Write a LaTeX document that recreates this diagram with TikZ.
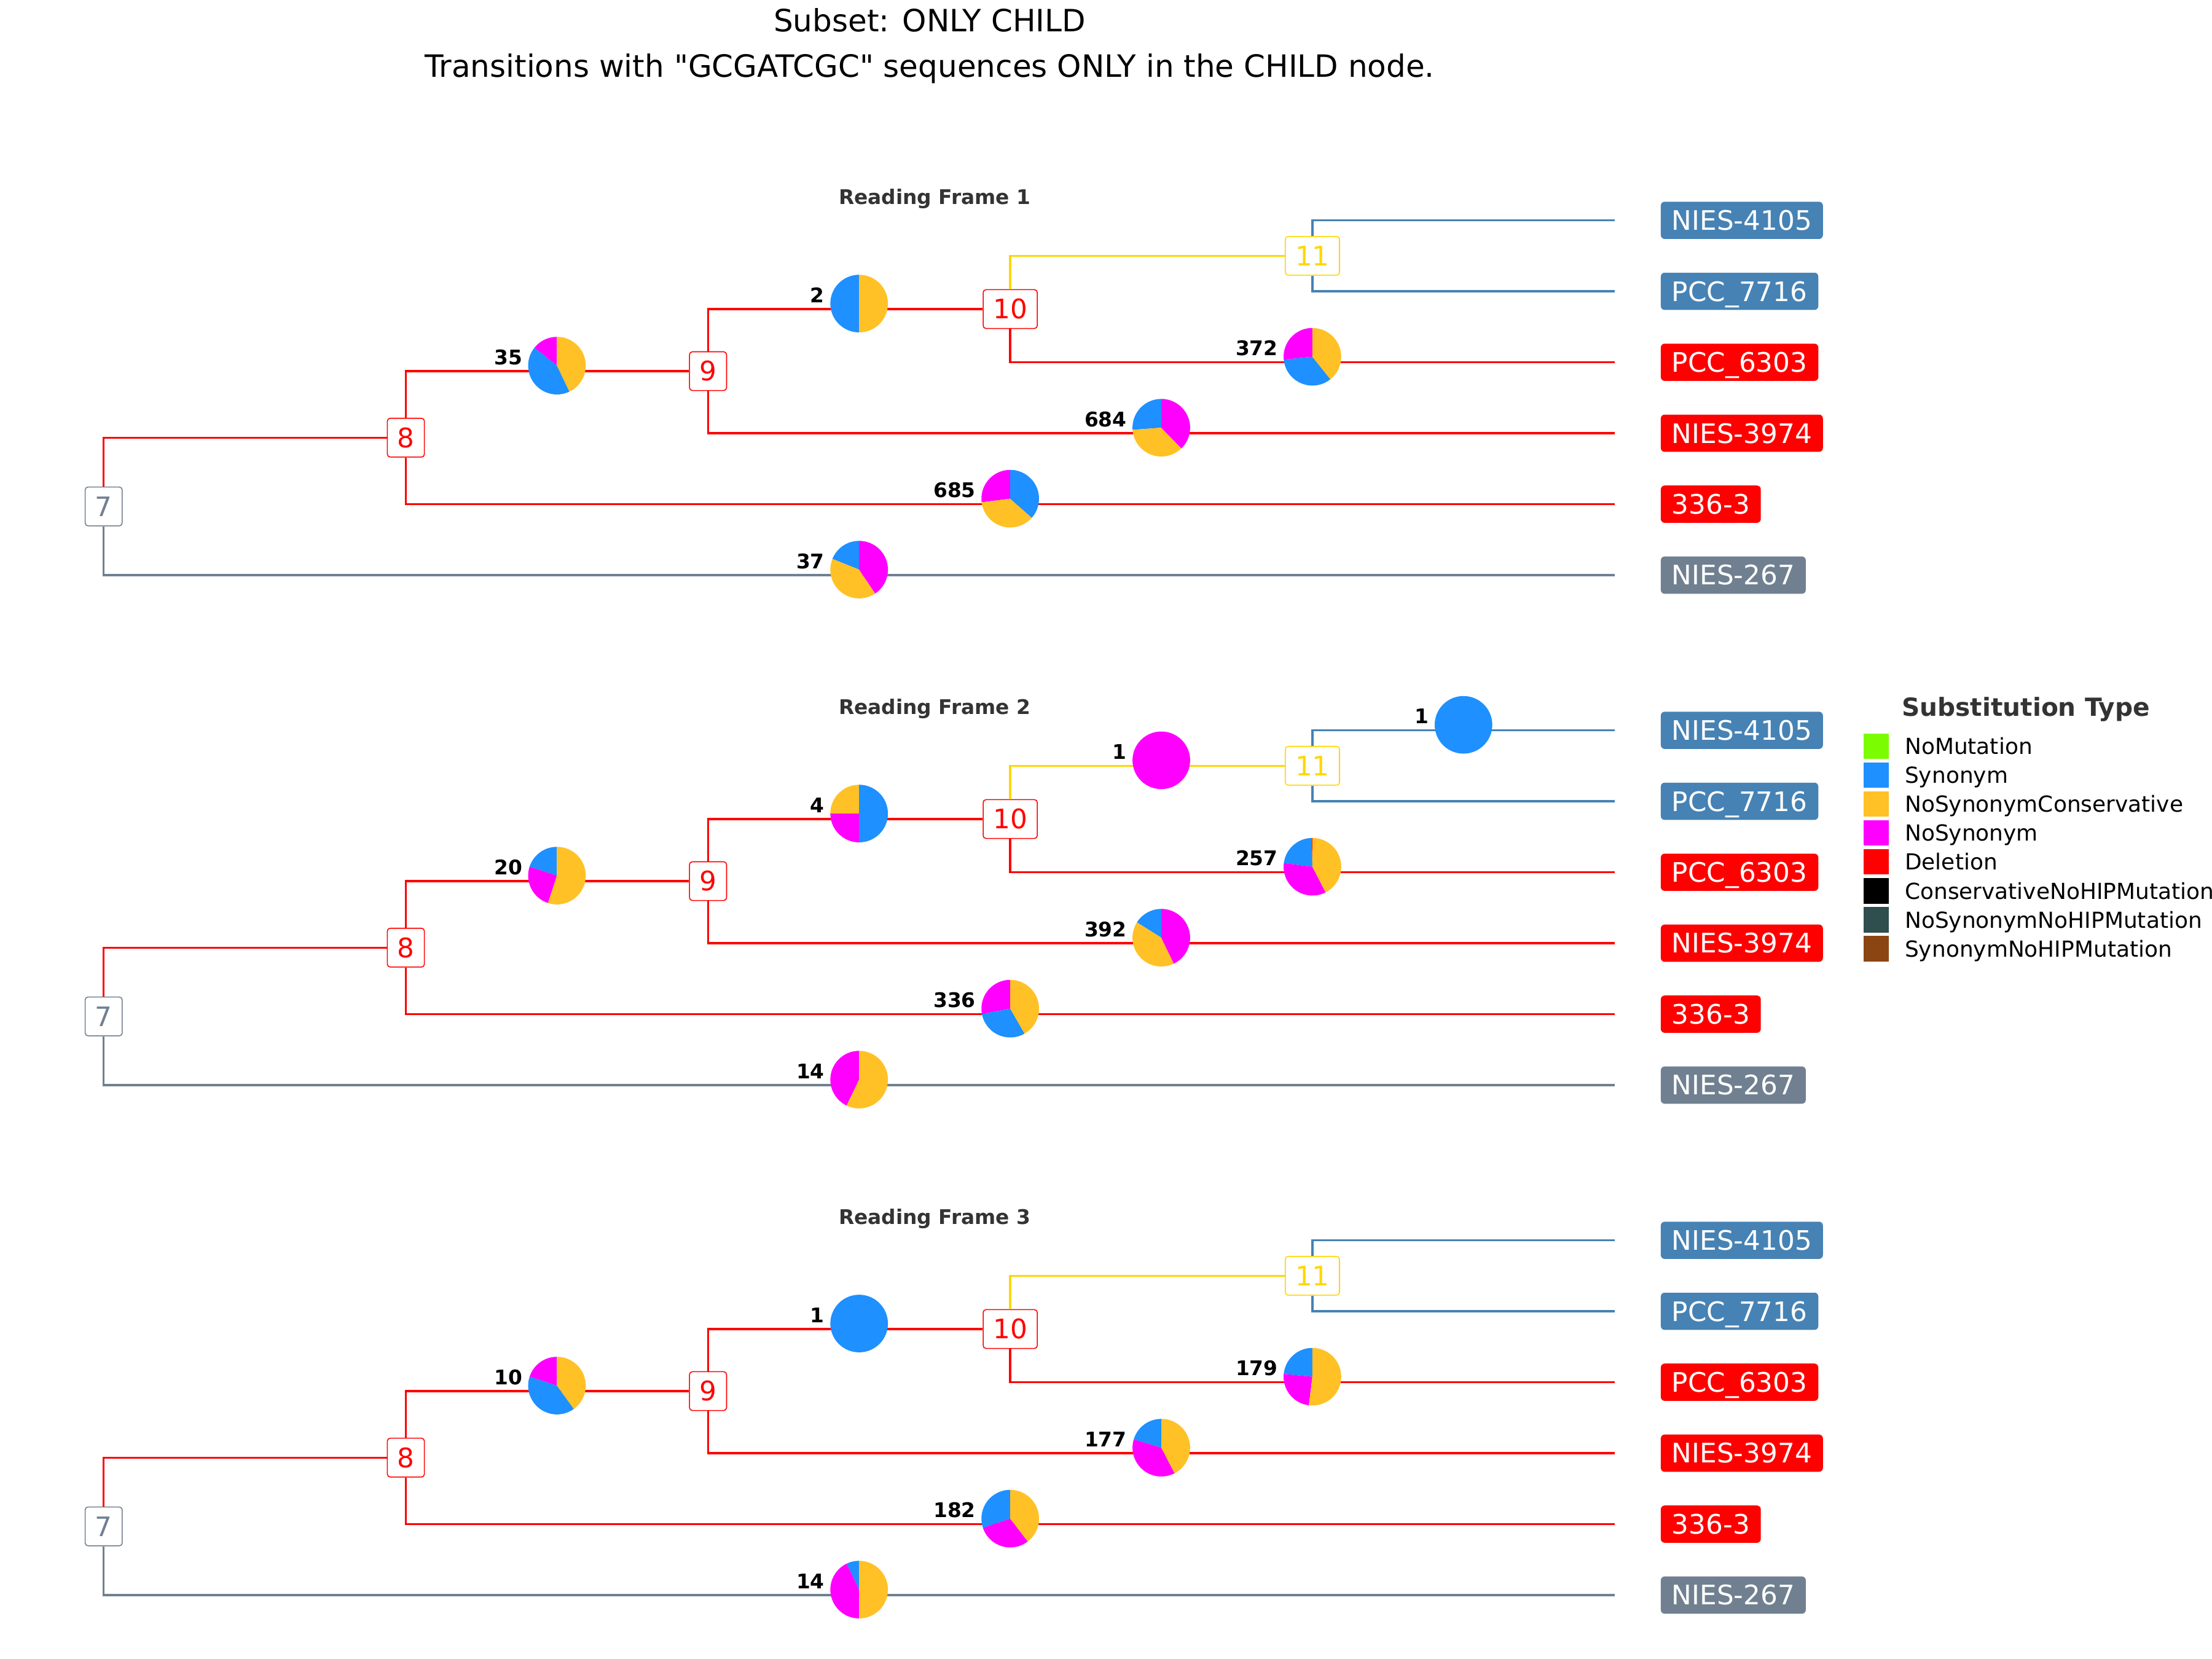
\documentclass[tikz,border=0pt]{standalone}
\usepackage{fontspec}
\setmainfont{DejaVu Sans}
\newfontfamily\plainfont{DejaVu Sans}
\definecolor{cred}{HTML}{FF0000}
\definecolor{cgold}{HTML}{FFD700}
\definecolor{csteel}{HTML}{4682B4}
\definecolor{cslate}{HTML}{708090}
\definecolor{cnomut}{HTML}{7CFC00}
\definecolor{csyn}{HTML}{1E90FF}
\definecolor{cnsc}{HTML}{FFC125}
\definecolor{cnosyn}{HTML}{FF00FF}
\definecolor{cdel}{HTML}{FF0000}
\definecolor{ccons}{HTML}{000000}
\definecolor{cnsnh}{HTML}{2F4F4F}
\definecolor{csnh}{HTML}{8B4513}
\definecolor{cdark}{HTML}{333333}
\tikzset{
  tedge/.style={line width=1.1pt},
  inode/.style={draw=#1, text=#1, fill=white, rounded corners=1.5pt, line width=0.5pt,
    font=\fontsize{14}{16}\selectfont, inner xsep=5.2pt, inner ysep=5pt,
    text height=10.2pt, text depth=0pt},
  leaf/.style={fill=#1, text=white, rounded corners=2pt,
    font=\fontsize{14}{16}\selectfont, inner xsep=5.7pt, inner ysep=4.6pt,
    text height=10.2pt, text depth=0pt, anchor=west},
  cnt/.style={font=\bfseries\fontsize{10.5}{12}\selectfont, inner sep=0pt,
    text height=7.6pt, text depth=0pt, anchor=east},
  frametitle/.style={font=\bfseries\fontsize{10.5}{12}\selectfont, text=cdark,
    inner sep=0pt, text height=7.65pt, text depth=0pt},
  maintitle/.style={font=\plainfont\fontsize{16}{18}\selectfont, inner sep=0pt,
    text height=11.7pt, text depth=0pt},
  legsq/.style={rectangle, draw=none, minimum size=13.2pt, inner sep=0pt},
  legtxt/.style={font=\fontsize{11.5}{13}\selectfont, anchor=west, inner sep=0pt,
    text height=8.4pt, text depth=0pt},
  legtitle/.style={font=\bfseries\fontsize{13}{15}\selectfont, text=cdark, anchor=west,
    inner sep=0pt, text height=9.5pt, text depth=0pt}
}
% #1 name, #2 x, #3 y of edge, #4 total (also printed), #5 slices colour/count
\newcommand{\mypie}[5]{%
  \coordinate (#1) at ({#2},{#3-3.9});
  \def\pieang{90}%
  \foreach \pc/\pn in {#5} {%
    \pgfmathsetmacro\pieend{\pieang+360*(\pn/#4)}%
    \fill[\pc] (#1) -- +(\pieang:15pt) arc[start angle=\pieang, end angle=\pieend, radius=15pt] -- cycle;
    \global\let\pieang\pieend
  }%
  \node[cnt] (#1c) at ({#2-24.3},{#3-9.8}) {#4};
}
\begin{document}
\begin{tikzpicture}[x=0.7347pt, y=-0.7347pt]
\useasboundingbox (0,0) rectangle (1568,1176);
\fill[white] (0,0) rectangle (1568,1176);
\clip (0,0) rectangle (1568,1176);

\node[maintitle] (title1) at (659,14.5) {Subset: ONLY CHILD};
\node[maintitle] (title2) at (659,46.5) {Transitions with "GCGATCGC" sequences ONLY in the CHILD node.};

\foreach \p/\oy/\fr in {a/0/1, b/361.5/2, c/723/3} {
  \node[frametitle] (\p F) at (662.5,{139.7+\oy}) {Reading Frame \fr};
  % internal nodes
  \node[inode=cslate] (\p7) at (73.5,{359+\oy}) {7};
  \node[inode=cred] (\p8) at (287.7,{310.25+\oy}) {8};
  \node[inode=cred] (\p9) at (501.9,{263.1+\oy}) {9};
  \node[inode=cred] (\p10) at (716.1,{219.1+\oy}) {10};
  \node[inode=cgold] (\p11) at (930.3,{181.35+\oy}) {11};
  % leaf ends
  \coordinate (\p L1) at (1144.5,{156.2+\oy});
  \coordinate (\p L2) at (1144.5,{206.5+\oy});
  \coordinate (\p L3) at (1144.5,{256.8+\oy});
  \coordinate (\p L4) at (1144.5,{307.1+\oy});
  \coordinate (\p L5) at (1144.5,{357.4+\oy});
  \coordinate (\p L6) at (1144.5,{407.7+\oy});
  % leaf labels
  \node[leaf=csteel] (\p T1) at (1177,{156.2+\oy}) {NIES-4105};
  \node[leaf=csteel] (\p T2) at (1177,{206.5+\oy}) {PCC\_7716};
  \node[leaf=cred] (\p T3) at (1177,{256.8+\oy}) {PCC\_6303};
  \node[leaf=cred] (\p T4) at (1177,{307.1+\oy}) {NIES-3974};
  \node[leaf=cred] (\p T5) at (1177,{357.4+\oy}) {336-3};
  \node[leaf=cslate] (\p T6) at (1177,{407.7+\oy}) {NIES-267};
  % edges
  \draw[tedge,cred] (\p7) |- (\p8);
  \draw[tedge,cslate] (\p7) |- (\p L6);
  \draw[tedge,cred] (\p8) |- (\p9);
  \draw[tedge,cred] (\p8) |- (\p L5);
  \draw[tedge,cred] (\p9) |- (\p10);
  \draw[tedge,cred] (\p9) |- (\p L4);
  \draw[tedge,cgold] (\p10) |- (\p11);
  \draw[tedge,cred] (\p10) |- (\p L3);
  \draw[tedge,csteel] (\p11) |- (\p L1);
  \draw[tedge,csteel] (\p11) |- (\p L2);
}

% Reading frame 1
\mypie{aP89}{394.8}{263.1}{35}{cnosyn/5, csyn/15, cnsc/15}
\mypie{aP910}{609}{219.1}{2}{csyn/1, cnsc/1}
\mypie{aP103}{930.3}{256.8}{372}{cnosyn/99, csyn/127, cnsc/146}
\mypie{aP94}{823.2}{307.1}{684}{csyn/179, cnsc/247, cnosyn/258}
\mypie{aP85}{716.1}{357.4}{685}{cnosyn/185, cnsc/250, csyn/250}
\mypie{aP76}{609}{407.7}{37}{csyn/7, cnsc/15, cnosyn/15}
% Reading frame 2
\mypie{bP89}{394.8}{624.6}{20}{csyn/4, cnosyn/5, cnsc/11}
\mypie{bP910}{609}{580.6}{4}{cnsc/1, cnosyn/1, csyn/2}
\mypie{bP1011}{823.2}{542.85}{1}{cnosyn/1}
\mypie{bP111}{1037.4}{517.7}{1}{csyn/1}
\mypie{bP103}{930.3}{618.3}{257}{cdel/1, csyn/58, cnosyn/89, cnsc/109}
\mypie{bP94}{823.2}{668.6}{392}{csyn/63, cnsc/161, cnosyn/168}
\mypie{bP85}{716.1}{718.9}{336}{cnosyn/94, csyn/102, cnsc/140}
\mypie{bP76}{609}{769.2}{14}{cnosyn/6, cnsc/8}
% Reading frame 3
\mypie{cP89}{394.8}{986.1}{10}{cnosyn/2, csyn/4, cnsc/4}
\mypie{cP910}{609}{942.1}{1}{csyn/1}
\mypie{cP103}{930.3}{979.8}{179}{csyn/42, cnosyn/44, cnsc/93}
\mypie{cP94}{823.2}{1030.1}{177}{csyn/36, cnosyn/66, cnsc/75}
\mypie{cP85}{716.1}{1080.4}{182}{csyn/55, cnosyn/55, cnsc/72}
\mypie{cP76}{609}{1130.7}{14}{csyn/1, cnosyn/6, cnsc/7}

% legend
\node[legtitle] (legtitle) at (1348,501) {Substitution Type};
\foreach \i/\col/\txt in {0/cnomut/NoMutation, 1/csyn/Synonym, 2/cnsc/NoSynonymConservative,
   3/cnosyn/NoSynonym, 4/cdel/Deletion, 5/ccons/ConservativeNoHIPMutation,
   6/cnsnh/NoSynonymNoHIPMutation, 7/csnh/SynonymNoHIPMutation} {
  \node[legsq, fill=\col] (lgs\i) at (1330,{529+20.5*\i}) {};
  \node[legtxt] (lgt\i) at (1350,{529+20.5*\i}) {\txt};
}
\end{tikzpicture}
\end{document}
